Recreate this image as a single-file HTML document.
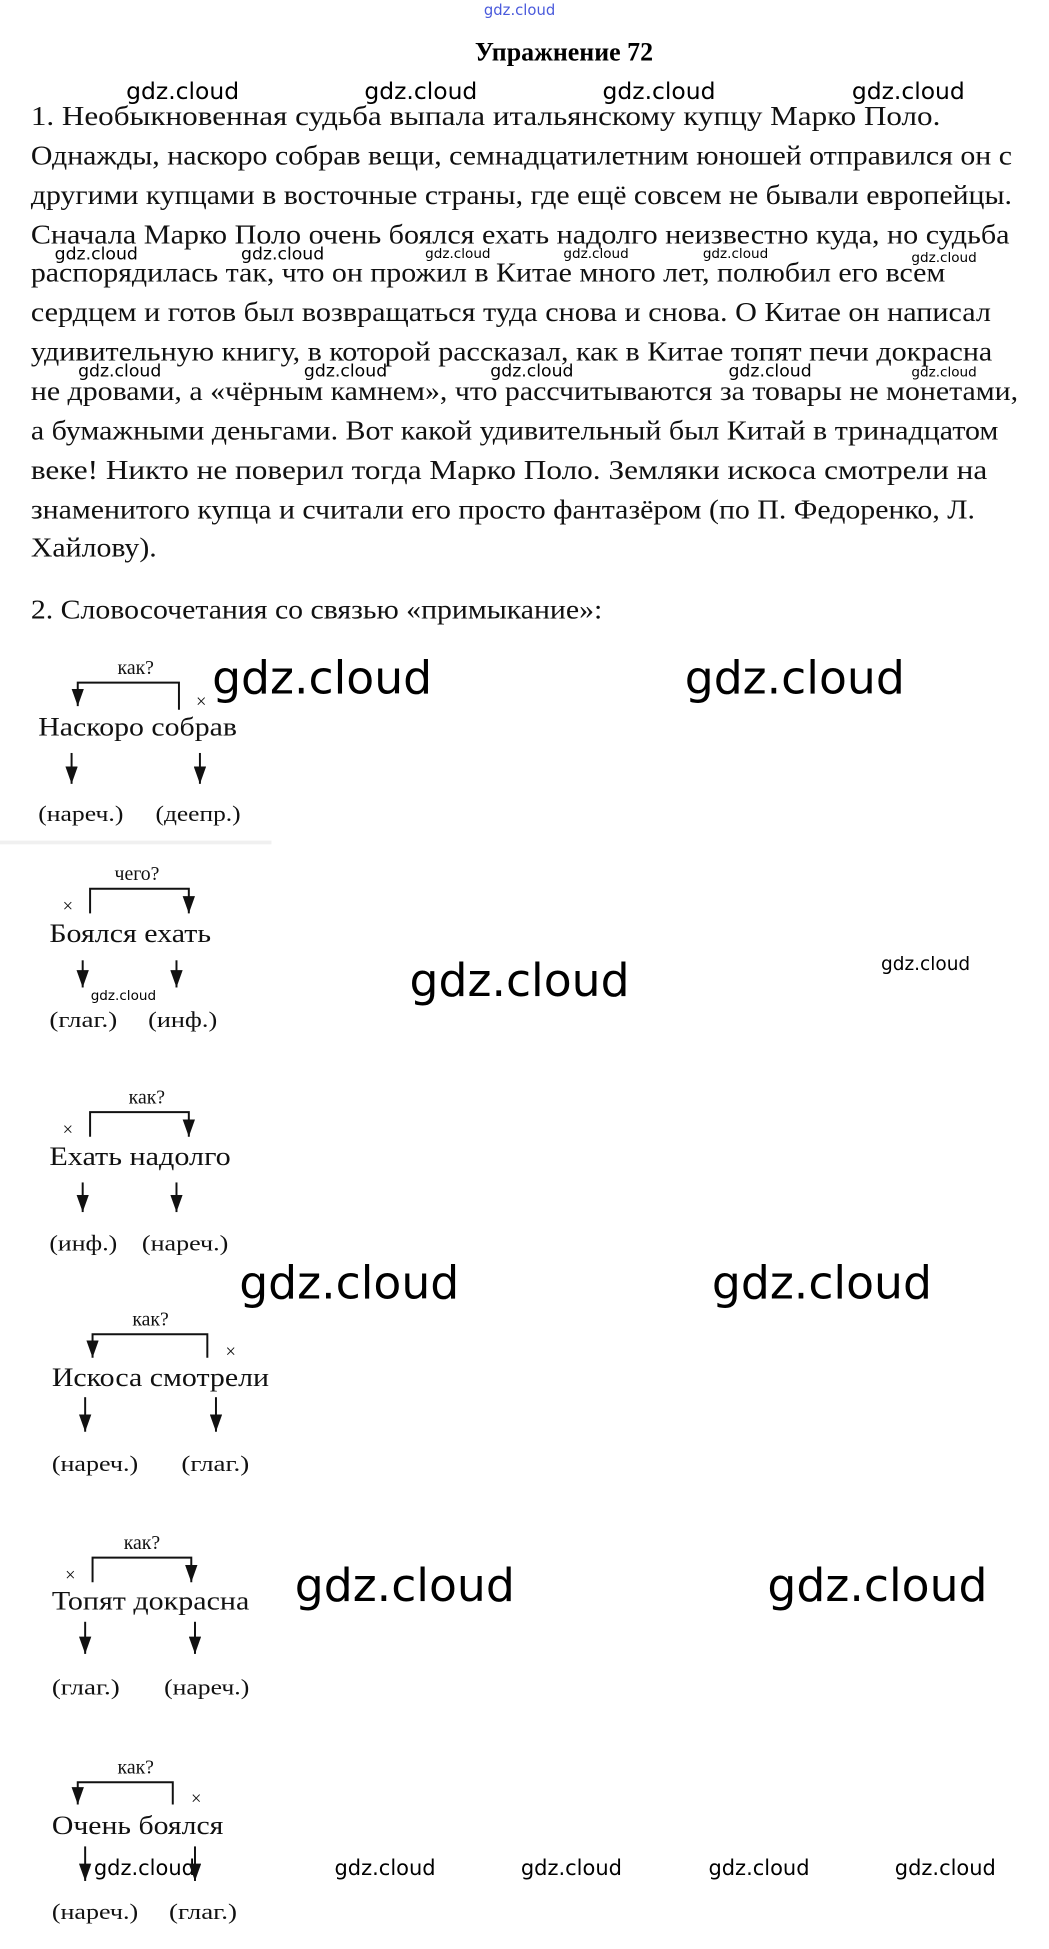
<!DOCTYPE html>
<html><head><meta charset="utf-8"><style>
html,body{margin:0;padding:0;background:#fff;}
svg{display:block}
.t{font-family:"Liberation Serif",serif;font-size:22px;fill:#111}
.d{font-family:"Liberation Serif",serif;font-size:21px;fill:#111}
.s{font-family:"Liberation Serif",serif;font-size:18px;fill:#111}
.q{font-family:"Liberation Serif",serif;font-size:16px;fill:#111}
.w{font-family:"DejaVu Sans","Liberation Sans",sans-serif;fill:#000;text-anchor:middle}
</style></head><body>
<svg width="1049" height="1949" viewBox="0 0 850 1579" xmlns="http://www.w3.org/2000/svg">
<defs>
<marker id="b" markerWidth="14" markerHeight="10" refX="14" refY="5" orient="auto" markerUnits="userSpaceOnUse" viewBox="0 0 14 10"><path d="M0,0 L14,5 L0,10 z" fill="#111"/></marker></defs>
<text x="421" y="12" class="w" style="font-size:12px;fill:#4a5adc">gdz.cloud</text>
<text x="457" y="49" text-anchor="middle" style="font-family:'Liberation Serif',serif;font-weight:bold;font-size:21px">Упражнение 72</text>
<g class="w" style="font-size:19px"><text x="148" y="80">gdz.cloud</text><text x="341" y="80">gdz.cloud</text><text x="534" y="80">gdz.cloud</text><text x="736" y="80">gdz.cloud</text></g>
<g class="t">
<text x="25" y="101" textLength="737" lengthAdjust="spacingAndGlyphs">1. Необыкновенная судьба выпала итальянскому купцу Марко Поло.</text>
<text x="25" y="133" textLength="795" lengthAdjust="spacingAndGlyphs">Однажды, наскоро собрав вещи, семнадцатилетним юношей отправился он с</text>
<text x="25" y="165" textLength="795" lengthAdjust="spacingAndGlyphs">другими купцами в восточные страны, где ещё совсем не бывали европейцы.</text>
<text x="25" y="197" textLength="793" lengthAdjust="spacingAndGlyphs">Сначала Марко Поло очень боялся ехать надолго неизвестно куда, но судьба</text>
<text x="25" y="228" textLength="741" lengthAdjust="spacingAndGlyphs">распорядилась так, что он прожил в Китае много лет, полюбил его всем</text>
<text x="25" y="260" textLength="778" lengthAdjust="spacingAndGlyphs">сердцем и готов был возвращаться туда снова и снова. О Китае он написал</text>
<text x="25" y="292" textLength="779" lengthAdjust="spacingAndGlyphs">удивительную книгу, в которой рассказал, как в Китае топят печи докрасна</text>
<text x="25" y="324" textLength="800" lengthAdjust="spacingAndGlyphs">не дровами, а «чёрным камнем», что рассчитываются за товары не монетами,</text>
<text x="25" y="356" textLength="784" lengthAdjust="spacingAndGlyphs">а бумажными деньгами. Вот какой удивительный был Китай в тринадцатом</text>
<text x="25" y="388" textLength="775" lengthAdjust="spacingAndGlyphs">веке! Никто не поверил тогда Марко Поло. Земляки искоса смотрели на</text>
<text x="25" y="420" textLength="765" lengthAdjust="spacingAndGlyphs">знаменитого купца и считали его просто фантазёром (по П. Федоренко, Л.</text>
<text x="25" y="451" textLength="102" lengthAdjust="spacingAndGlyphs">Хайлову).</text>
<text x="25" y="501" textLength="463" lengthAdjust="spacingAndGlyphs">2. Словосочетания со связью «примыкание»:</text>
</g>
<g class="w" style="font-size:14px"><text x="78" y="210">gdz.cloud</text><text x="229" y="210">gdz.cloud</text></g>
<g class="w" style="font-size:11px"><text x="371" y="209">gdz.cloud</text><text x="483" y="209">gdz.cloud</text><text x="596" y="209">gdz.cloud</text><text x="765" y="212">gdz.cloud</text>
<text x="765" y="305">gdz.cloud</text></g>
<g class="w" style="font-size:14px"><text x="97" y="305">gdz.cloud</text><text x="280" y="305">gdz.cloud</text><text x="431" y="305">gdz.cloud</text><text x="624" y="305">gdz.cloud</text></g>
<g class="w" style="font-size:37px"><text x="261" y="562">gdz.cloud</text><text x="644" y="562">gdz.cloud</text><text x="421" y="807">gdz.cloud</text><text x="283" y="1052">gdz.cloud</text><text x="666" y="1052">gdz.cloud</text><text x="328" y="1297">gdz.cloud</text><text x="711" y="1297">gdz.cloud</text></g>
<text x="750" y="786" class="w" style="font-size:15px">gdz.cloud</text>
<text x="100" y="810" class="w" style="font-size:11px">gdz.cloud</text>
<g class="w" style="font-size:17px"><text x="117" y="1519">gdz.cloud</text><text x="312" y="1519">gdz.cloud</text><text x="463" y="1519">gdz.cloud</text><text x="615" y="1519">gdz.cloud</text><text x="766" y="1519">gdz.cloud</text></g>
<rect x="0" y="681" width="220" height="3" fill="#f0f0f0"/>
<g stroke="#111" stroke-width="1.6" fill="none">
<path d="M145,575 V553 H63 V572" marker-end="url(#b)"/>
<path d="M58,610 V635" marker-end="url(#b)"/><path d="M162,610 V635" marker-end="url(#b)"/>
<path d="M73,740 V720 H153 V740" marker-end="url(#b)"/>
<path d="M67,778 V800" marker-end="url(#b)"/><path d="M143,778 V800" marker-end="url(#b)"/>
<path d="M73,921 V901 H153 V921" marker-end="url(#b)"/>
<path d="M67,958 V982" marker-end="url(#b)"/><path d="M143,958 V982" marker-end="url(#b)"/>
<path d="M168,1100 V1081 H75 V1100" marker-end="url(#b)"/>
<path d="M69,1132 V1160" marker-end="url(#b)"/><path d="M175,1132 V1160" marker-end="url(#b)"/>
<path d="M75,1282 V1262 H155 V1282" marker-end="url(#b)"/>
<path d="M69,1314 V1340" marker-end="url(#b)"/><path d="M158,1314 V1340" marker-end="url(#b)"/>
<path d="M140,1462 V1444 H63 V1462" marker-end="url(#b)"/>
<path d="M69,1496 V1524" marker-end="url(#b)"/><path d="M158,1496 V1524" marker-end="url(#b)"/>
</g>
<g class="q" text-anchor="middle">
<text x="110" y="546">как?</text><text x="111" y="713">чего?</text><text x="119" y="894">как?</text><text x="122" y="1074">как?</text><text x="115" y="1255">как?</text><text x="110" y="1437">как?</text>
</g>
<g class="q" text-anchor="middle" style="font-size:15px"><text x="163" y="573">×</text><text x="55" y="739">×</text><text x="55" y="920">×</text><text x="187" y="1100">×</text><text x="57" y="1281">×</text><text x="159" y="1462">×</text></g>
<g class="d">
<text x="31" y="596" textLength="161" lengthAdjust="spacingAndGlyphs">Наскоро собрав</text>
<text x="40" y="763" textLength="131" lengthAdjust="spacingAndGlyphs">Боялся ехать</text>
<text x="40" y="944" textLength="147" lengthAdjust="spacingAndGlyphs">Ехать надолго</text>
<text x="42" y="1123" textLength="176" lengthAdjust="spacingAndGlyphs">Искоса смотрели</text>
<text x="42" y="1304" textLength="160" lengthAdjust="spacingAndGlyphs">Топят докрасна</text>
<text x="42" y="1486" textLength="139" lengthAdjust="spacingAndGlyphs">Очень боялся</text>
</g>
<g class="s">
<text x="31" y="665" textLength="69" lengthAdjust="spacingAndGlyphs">(нареч.)</text><text x="126" y="665" textLength="69" lengthAdjust="spacingAndGlyphs">(деепр.)</text>
<text x="40" y="832" textLength="55" lengthAdjust="spacingAndGlyphs">(глаг.)</text><text x="120" y="832" textLength="56" lengthAdjust="spacingAndGlyphs">(инф.)</text>
<text x="40" y="1013" textLength="55" lengthAdjust="spacingAndGlyphs">(инф.)</text><text x="115" y="1013" textLength="70" lengthAdjust="spacingAndGlyphs">(нареч.)</text>
<text x="42" y="1192" textLength="70" lengthAdjust="spacingAndGlyphs">(нареч.)</text><text x="147" y="1192" textLength="55" lengthAdjust="spacingAndGlyphs">(глаг.)</text>
<text x="42" y="1373" textLength="55" lengthAdjust="spacingAndGlyphs">(глаг.)</text><text x="133" y="1373" textLength="69" lengthAdjust="spacingAndGlyphs">(нареч.)</text>
<text x="42" y="1555" textLength="70" lengthAdjust="spacingAndGlyphs">(нареч.)</text><text x="137" y="1555" textLength="55" lengthAdjust="spacingAndGlyphs">(глаг.)</text>
</g>
</svg>
</body></html>
